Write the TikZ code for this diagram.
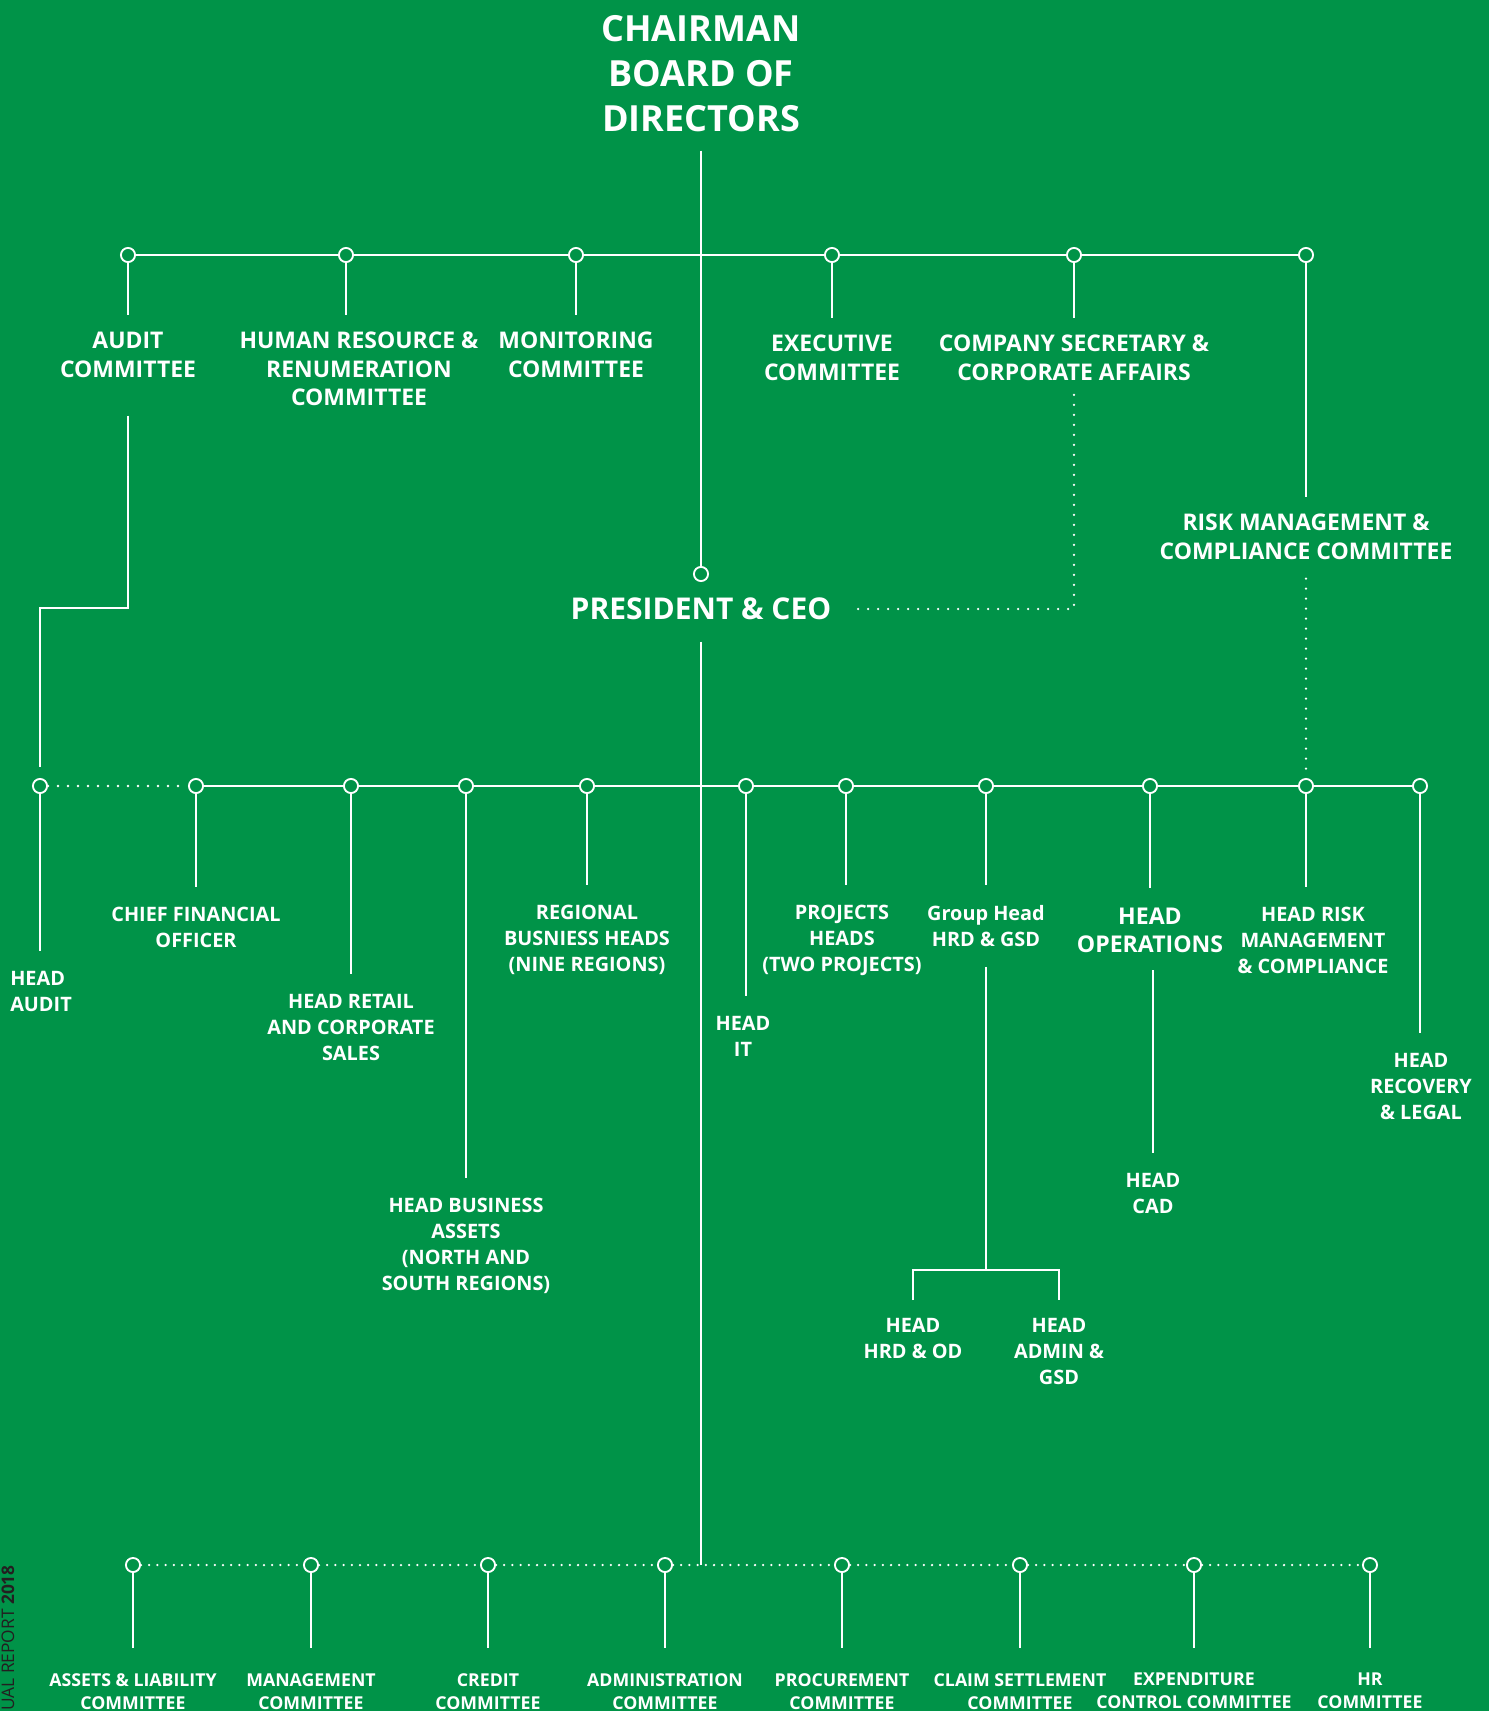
\documentclass[tikz,border=0pt]{standalone}
\usepackage{fontspec}
\setmainfont{Open Sans}
\usepackage{tikz}

\definecolor{boardgreen}{RGB}{0,147,72}
\definecolor{reportink}{RGB}{35,31,32}

\tikzset{
  link/.style={draw=white, line width=1.6pt},
  dotlink/.style={draw=white, line width=1.9pt, line cap=round, dash pattern=on 0pt off 7.5pt},
  finedots/.style={dotlink, dash pattern=on 0pt off 6.15pt},
  joint/.style={circle, draw=white, fill=boardgreen, line width=1.4pt, minimum size=10.6pt, inner sep=0pt},
  heading/.style={text=white, font=\bfseries\fontsize{27}{33.75}\selectfont, align=center, inner sep=0pt},
  committee/.style={text=white, font=\bfseries\fontsize{17.2}{21.4}\selectfont, align=center, inner sep=0pt, anchor=north},
  officer/.style={text=white, font=\bfseries\fontsize{14.9}{19.5}\selectfont, align=center, inner sep=0pt, anchor=north},
  forum/.style={text=white, font=\bfseries\fontsize{13.3}{17.25}\selectfont, align=center, inner sep=0pt, anchor=north},
}

\begin{document}
\begin{tikzpicture}[x=0.75pt, y=-0.75pt]
  \fill[boardgreen] (0,0) rectangle (1489,1711);
  \useasboundingbox (0,0) rectangle (1489,1711);

  % Side caption
  \node[rotate=90, anchor=east, text=reportink, font=\fontsize{13}{16}\selectfont, inner sep=0pt]
    (report) at (8,1565) {UAL REPORT \textbf{2018}};

  % Chairman and CEO
  \node[heading, anchor=north] (chair) at (701,15) {CHAIRMAN\\BOARD OF\\DIRECTORS};
  \node[joint] (ceo-dot) at (701,574) {};
  \node[heading, font=\bfseries\fontsize{22.5}{28}\selectfont] (ceo) at (701,609) {PRESIDENT \& CEO};
  \draw[link, shorten <=14pt] (chair) -- (ceo-dot);

  % Board committees
  \foreach \name/\i/\x/\lx/\ly in {
      AUDIT\\COMMITTEE/1/128/128/332,
      HUMAN RESOURCE \&\\RENUMERATION\\COMMITTEE/2/346/359/332,
      MONITORING\\COMMITTEE/3/576/576/332,
      EXECUTIVE\\COMMITTEE/4/832/832/335,
      COMPANY SECRETARY \&\\CORPORATE AFFAIRS/5/1074/1074/335,
      RISK MANAGEMENT \&\\COMPLIANCE COMMITTEE/6/1306/1306/514} {
    \node[joint] (Board-\i) at (\x,255) {};
    \node[committee] (Committee-\i) at (\lx,\ly) {\name};
    \draw[link, shorten >=13pt] (Board-\i) -- (Board-\i |- Committee-\i.north);
  }
  \foreach \i/\j in {1/2,2/3,3/4,4/5,5/6} {
    \draw[link] (Board-\i) -- (Board-\j);
  }

  % Heads reporting to the CEO
  \foreach \name/\i/\x/\lx/\ly in {
      HEAD\\AUDIT/1/40/10/971,
      CHIEF FINANCIAL\\OFFICER/2/196/196/907,
      HEAD RETAIL\\AND CORPORATE\\SALES/3/351/351/994,
      HEAD BUSINESS\\ASSETS\\(NORTH AND\\SOUTH REGIONS)/4/466/466/1198,
      REGIONAL\\BUSNIESS HEADS\\(NINE REGIONS)/5/587/587/905,
      HEAD\\IT/6/746/743/1016,
      PROJECTS\\HEADS\\(TWO PROJECTS)/7/846/842/905,
      Group Head\\HRD \& GSD/8/986/986/905,
      HEAD\\OPERATIONS/9/1150/1150/908,
      HEAD RISK\\MANAGEMENT\\\& COMPLIANCE/10/1306/1313/907,
      HEAD\\RECOVERY\\\& LEGAL/11/1420/1421/1053} {
    \node[joint] (Staff-\i) at (\x,786) {};
    \ifnum \i=1
      \node[officer, anchor=north west, align=left] (Head-\i) at (\lx,\ly) {\name};
    \else\ifnum \i=9
      \node[officer, font=\bfseries\fontsize{17.3}{21}\selectfont] (Head-\i) at (\lx,\ly) {\name};
    \else
      \node[officer] (Head-\i) at (\lx,\ly) {\name};
    \fi\fi
    \draw[link, shorten >=15pt] (Staff-\i) -- (Staff-\i |- Head-\i.north);
  }
  \draw[dotlink] (Staff-1) -- (Staff-2);
  \foreach \i/\j in {2/3,3/4,4/5,5/6,6/7,7/8,8/9,9/10,10/11} {
    \draw[link] (Staff-\i) -- (Staff-\j);
  }

  % Second line heads
  \node[officer] (cad) at (1153,1173) {HEAD\\CAD};
  \node[officer] (hrd) at (913,1318) {HEAD\\HRD \& OD};
  \node[officer] (admin) at (1059,1318) {HEAD\\ADMIN \&\\GSD};
  \coordinate (hrd-fork) at (986,1270);
  \draw[link, shorten <=12.75pt, shorten >=15pt] (cad |- Head-9.south) -- (cad.north);
  \draw[link, shorten <=15pt] (Head-8) -- (hrd-fork);
  \draw[link, shorten <=13.5pt, shorten >=13.5pt] (hrd.north) |- (hrd-fork) -| (admin.north);

  % Management committees
  \foreach \name/\i/\x in {
      ASSETS \& LIABILITY\\COMMITTEE/1/133,
      MANAGEMENT\\COMMITTEE/2/311,
      CREDIT\\COMMITTEE/3/488,
      ADMINISTRATION\\COMMITTEE/4/665,
      PROCUREMENT\\COMMITTEE/5/842,
      CLAIM SETTLEMENT\\COMMITTEE/6/1020,
      EXPENDITURE\\CONTROL COMMITTEE/7/1194,
      HR\\COMMITTEE/8/1370} {
    \node[joint] (Forum-\i) at (\x,1565) {};
    \node[forum] (Panel-\i) at (\x,1673) {\name};
    \draw[link, shorten >=18.75pt] (Forum-\i) -- (Panel-\i.north);
  }
  \foreach \i/\j in {1/2,2/3,3/4,4/5,5/6,6/7,7/8} {
    \draw[finedots] (Forum-\i) -- (Forum-\j);
  }

  % Reporting lines
  \coordinate (audit-bend) at (40,608);
  \draw[link, shorten <=28.5pt, shorten >=8pt] (Committee-1.south) |- (audit-bend) -- (Staff-1);
  \draw[dotlink, shorten <=10.5pt, shorten >=15pt] (Committee-5.south) |- (ceo.east);
  \draw[dotlink, shorten <=14pt] (Committee-6) -- (Staff-10);
  \draw[link, shorten <=16pt] (ceo) -- (ceo |- Forum-1);
\end{tikzpicture}
\end{document}
